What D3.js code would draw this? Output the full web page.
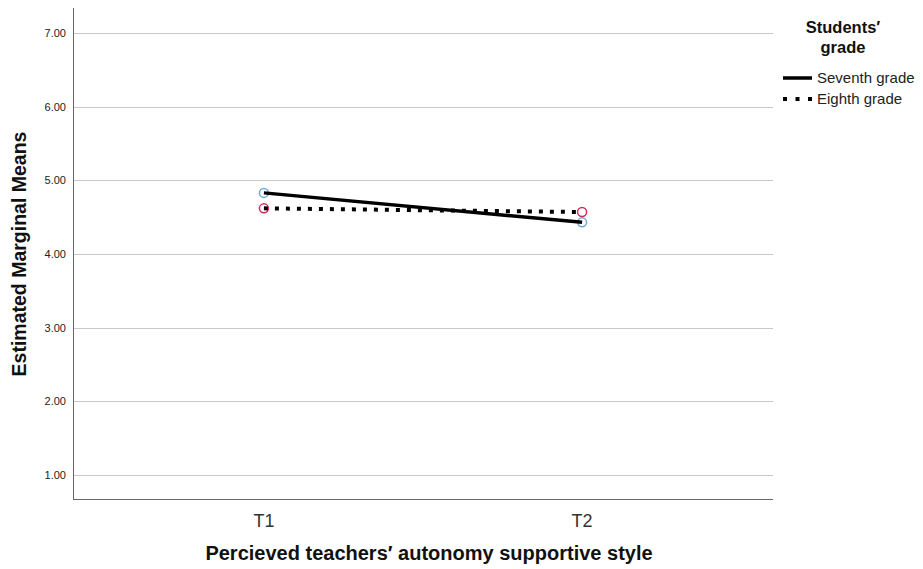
<!DOCTYPE html>
<html>
<head>
<meta charset="utf-8">
<script src="https://cdn.jsdelivr.net/npm/d3@7"></script>
<style>
  body { margin: 0; background: #fff; }
  text { font-family: "Liberation Sans", Arial, sans-serif; }
</style>
</head>
<body>
<div id="chart"></div>
<script>
var times = ["T1", "T2"];
var seventh = [4.83, 4.43];
var eighth = [4.62, 4.57];
var yTicks = [1, 2, 3, 4, 5, 6, 7];

var margin = {top: 8, right: 150, bottom: 70, left: 73};
var width = 923 - margin.left - margin.right;
var height = 569 - margin.top - margin.bottom;

var svg = d3.select("#chart").append("svg")
    .attr("width", 923)
    .attr("height", 569);

var g = svg.append("g")
    .attr("transform", "translate(" + margin.left + "," + margin.top + ")");

var x = d3.scalePoint().domain(times).range([0, width]).padding(0.6);
var y = d3.scaleLinear().domain([0.674, 7.34]).range([height, 0]);

// gridlines
g.selectAll(".grid")
    .data(yTicks)
    .enter().append("line")
    .attr("class", "grid")
    .attr("x1", 0)
    .attr("x2", width)
    .attr("y1", function(d) { return Math.round(y(d)) + 0.5; })
    .attr("y2", function(d) { return Math.round(y(d)) + 0.5; })
    .style("stroke", "#c8c8c8")
    .style("stroke-width", 1);

// y tick labels
g.selectAll(".ylab")
    .data(yTicks)
    .enter().append("text")
    .attr("class", "ylab")
    .attr("x", -7)
    .attr("y", function(d) { return y(d); })
    .attr("dy", "0.35em")
    .attr("text-anchor", "end")
    .attr("font-size", 11)
    .attr("fill", "#222")
    .text(function(d) { return d3.format(".2f")(d); });

// axes lines
g.append("line")
    .attr("x1", 0.5).attr("x2", 0.5)
    .attr("y1", 0).attr("y2", height)
    .style("stroke", "#666").style("stroke-width", 1);
g.append("line")
    .attr("x1", 0).attr("x2", width)
    .attr("y1", height + 0.5).attr("y2", height + 0.5)
    .style("stroke", "#666").style("stroke-width", 1);

// x tick labels
g.selectAll(".xlab")
    .data(times)
    .enter().append("text")
    .attr("class", "xlab")
    .attr("x", function(d) { return x(d); })
    .attr("y", height + 28)
    .attr("text-anchor", "middle")
    .attr("font-size", 18)
    .attr("fill", "#333")
    .text(function(d) { return d; });

// axis titles
svg.append("text")
    .attr("transform", "translate(26," + (margin.top + y(4)) + ") rotate(-90)")
    .attr("text-anchor", "middle")
    .attr("font-size", 19.5)
    .attr("font-weight", "bold")
    .attr("fill", "#111")
    .text("Estimated Marginal Means");

svg.append("text")
    .attr("x", 429)
    .attr("y", 560)
    .attr("text-anchor", "middle")
    .attr("font-size", 20)
    .attr("font-weight", "bold")
    .attr("fill", "#111")
    .text("Percieved teachers\u2032 autonomy supportive style");

var series = [
    {name: "Seventh grade", values: seventh, color: "#6fa8dc", dash: null},
    {name: "Eighth grade", values: eighth, color: "#d42a5b", dash: "4,7"}
];

var line = d3.line()
    .x(function(d, i) { return x(times[i]); })
    .y(function(d) { return y(d); });

// markers
series.forEach(function(s) {
    g.selectAll(null)
        .data(s.values)
        .enter().append("circle")
        .attr("cx", function(d, i) { return x(times[i]); })
        .attr("cy", function(d) { return y(d); })
        .attr("r", 4.5)
        .style("fill", "#fff")
        .style("stroke", s.color)
        .style("stroke-width", 1.5);
});

series.forEach(function(s) {
    g.append("path")
        .datum(s.values)
        .attr("d", line)
        .style("fill", "none")
        .style("stroke", "#000")
        .style("stroke-width", s.dash ? 4 : 3.5)
        .style("stroke-dasharray", s.dash);
});

// legend
var lg = svg.append("g").attr("transform", "translate(783,0)");
lg.append("text")
    .attr("x", 60).attr("y", 33)
    .attr("text-anchor", "middle")
    .attr("font-size", 16.5).attr("font-weight", "bold").attr("fill", "#111")
    .text("Students\u2032");
lg.append("text")
    .attr("x", 60).attr("y", 53)
    .attr("text-anchor", "middle")
    .attr("font-size", 16.5).attr("font-weight", "bold").attr("fill", "#111")
    .text("grade");

series.forEach(function(s, i) {
    var yy = 78 + i * 21;
    lg.append("line")
        .attr("x1", 0).attr("x2", 29)
        .attr("y1", yy).attr("y2", yy)
        .style("stroke", "#000")
        .style("stroke-width", s.dash ? 4 : 3.5)
        .style("stroke-dasharray", s.dash ? "4,8.5" : null);
    lg.append("text")
        .attr("x", 34).attr("y", yy)
        .attr("dy", "0.35em")
        .attr("font-size", 15)
        .attr("fill", "#222")
        .text(s.name);
});
</script>
</body>
</html>
